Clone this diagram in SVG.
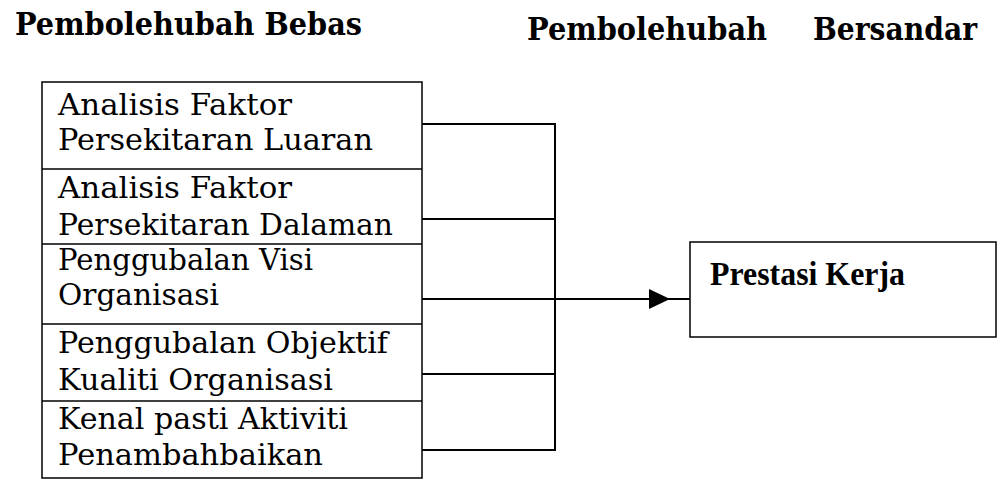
<svg xmlns="http://www.w3.org/2000/svg" width="997" height="479" viewBox="0 0 997 479">
<style>
.title{font-family:"DejaVu Serif","Liberation Serif",serif;font-weight:bold;font-size:31px;fill:#000}
.item{font-family:"DejaVu Serif","Liberation Serif",serif;font-size:29px;fill:#000}
.box{fill:#fff;stroke:#000;stroke-width:1.5}
.div{stroke:#000;stroke-width:1.5}
.conn{stroke:#000;stroke-width:2;fill:none}
.out{font-family:"Liberation Serif","Times New Roman",serif;font-weight:bold;font-size:33px;fill:#000}
</style>
<defs>
<marker id="arrow" markerWidth="22" markerHeight="22" refX="21" refY="10" orient="auto" markerUnits="userSpaceOnUse">
<path d="M0,0 L21,10 L0,20 Z" fill="#000"/>
</marker>
</defs>
<rect width="997" height="479" fill="#fff"/>
<g id="titles">
<text class="title" x="15" y="35" textLength="347" lengthAdjust="spacingAndGlyphs">Pembolehubah Bebas</text>
<text class="title" x="527" y="40" textLength="240" lengthAdjust="spacingAndGlyphs">Pembolehubah</text>
<text class="title" x="813" y="40" textLength="164" lengthAdjust="spacingAndGlyphs">Bersandar</text>
</g>
<g id="variables">
<rect class="box" x="42" y="82" width="380" height="396"/>
<line class="div" x1="42" y1="169" x2="422" y2="169"/>
<line class="div" x1="42" y1="244" x2="422" y2="244"/>
<line class="div" x1="42" y1="324" x2="422" y2="324"/>
<line class="div" x1="42" y1="401" x2="422" y2="401"/>
</g>
<g id="node1">
<text class="item" x="58" y="115" textLength="234" lengthAdjust="spacingAndGlyphs">Analisis Faktor</text>
<text class="item" x="58" y="150" textLength="315" lengthAdjust="spacingAndGlyphs">Persekitaran Luaran</text>
</g>
<g id="node2">
<text class="item" x="58" y="198" textLength="234" lengthAdjust="spacingAndGlyphs">Analisis Faktor</text>
<text class="item" x="58" y="235" textLength="335" lengthAdjust="spacingAndGlyphs">Persekitaran Dalaman</text>
</g>
<g id="node3">
<text class="item" x="58" y="270" textLength="255" lengthAdjust="spacingAndGlyphs">Penggubalan Visi</text>
<text class="item" x="58" y="305" textLength="161" lengthAdjust="spacingAndGlyphs">Organisasi</text>
</g>
<g id="node4">
<text class="item" x="58" y="353" textLength="330" lengthAdjust="spacingAndGlyphs">Penggubalan Objektif</text>
<text class="item" x="58" y="390" textLength="275" lengthAdjust="spacingAndGlyphs">Kualiti Organisasi</text>
</g>
<g id="node5">
<text class="item" x="58" y="429" textLength="290" lengthAdjust="spacingAndGlyphs">Kenal pasti Aktiviti</text>
<text class="item" x="58" y="465" textLength="265" lengthAdjust="spacingAndGlyphs">Penambahbaikan</text>
</g>
<g id="connectors">
<path class="conn" d="M422,124 H555 V450 H422"/>
<path class="conn" d="M422,219 H555"/>
<path class="conn" d="M422,374 H555"/>
<path class="conn" d="M422,299 H670" marker-end="url(#arrow)"/>
<path class="conn" d="M666,299 H690"/>
</g>
<g id="prestasi">
<rect class="box" x="690" y="242" width="306" height="95"/>
<text class="out" x="710" y="285" textLength="195" lengthAdjust="spacingAndGlyphs">Prestasi Kerja</text>
</g>
</svg>
